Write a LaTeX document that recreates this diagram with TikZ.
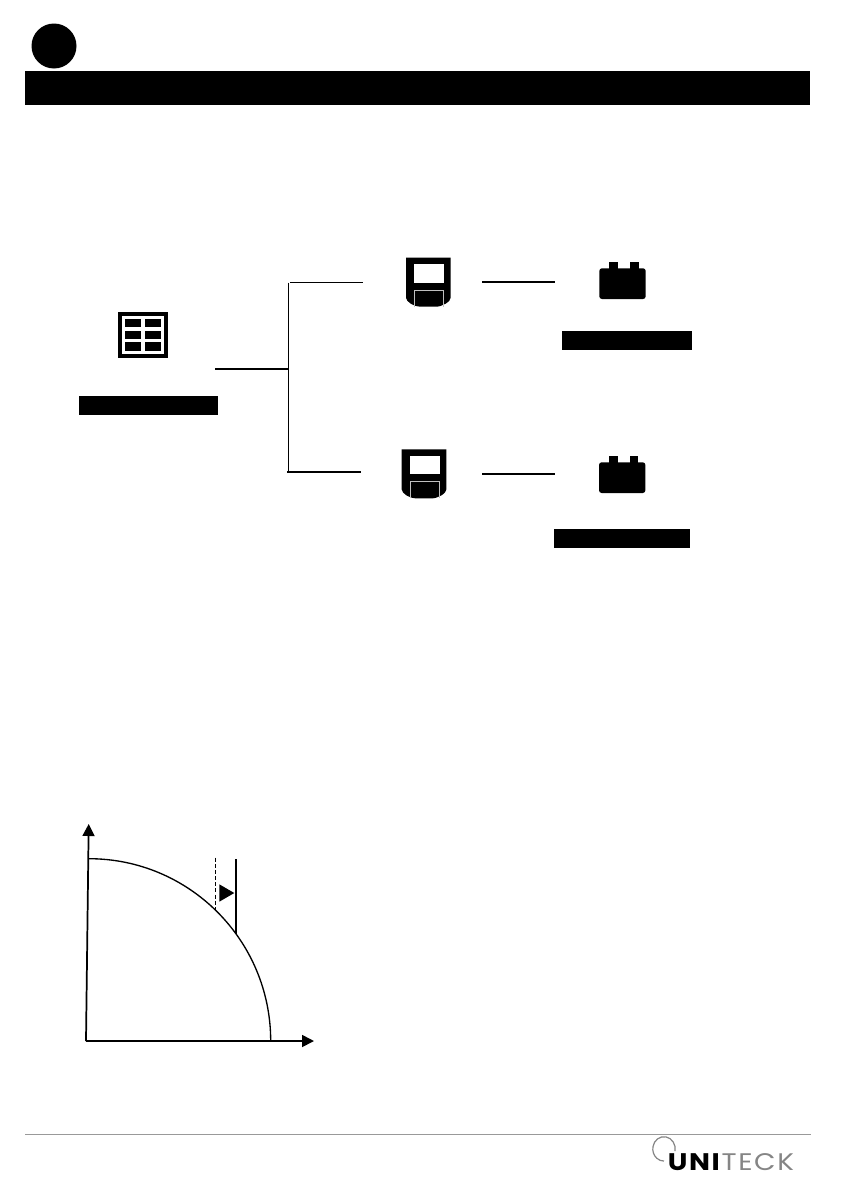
\documentclass[tikz,border=0pt]{standalone}
\usepackage{fontspec}
\setmainfont{Poppins}
\usetikzlibrary{arrows.meta}
\definecolor{logogray}{gray}{0.52}
\tikzset{
  x=0.75pt,y=-0.75pt,
  blackbar/.style={fill=black,draw=none,inner sep=0pt,outer sep=0pt,anchor=north west},
  branch/.style={draw=black,line width=1.3pt},
  thinbranch/.style={draw=black,line width=0.8pt},
  axis/.style={draw=black,line width=1.3pt,-{Triangle[length=9pt,width=9pt]}},
  handheld/.pic={
    \fill[black] (0,0) -- (44.7,0) -- (44.7,40) .. controls (44.7,44) and (36,49) .. (30,49)
      -- (14,49) .. controls (8,49) and (0,44) .. (0,40) -- cycle;
    \fill[white] (8.3,6.3) rectangle (38,25);
    \draw[draw=black!25,line width=0.6pt] (8.3,49) -- (8.3,32.3) -- (37.7,32.3) -- (37.7,49);
  },
  batteryicon/.pic={
    \fill[black,rounded corners=2pt] (0,6.3) rectangle (46.4,37);
    \fill[black] (10,0) rectangle (18.7,7);
    \fill[black] (30.7,0) rectangle (39.4,7);
  }
}
\begin{document}
\begin{tikzpicture}
\useasboundingbox (0,0) rectangle (840,1192);
\fill[white] (0,0) rectangle (840,1192);

% header
\node[circle,fill=black,minimum size=33.75pt,inner sep=0pt] (badge) at (54,46) {};
\node[blackbar,minimum width=588.75pt,minimum height=25.5pt] (headbar) at (25,71) {};

% grid icon
\draw[black,line width=3pt] (119.7,314) rectangle (165.7,355.7);
\foreach \yy/\hh in {319/8,330.7/8,342.3/8.3}{
  \fill[black] (125,\yy) rectangle ++(16,\hh);
  \fill[black] (145,\yy) rectangle ++(15.7,\hh);
}
\node[blackbar,minimum width=104pt,minimum height=14.25pt] (labelA) at (79,396) {};

% handhelds
\pic at (406,257.7) {handheld};
\pic at (401.7,449.4) {handheld};

% batteries
\pic at (599.3,262) {batteryicon};
\pic at (599,456) {batteryicon};
\node[blackbar,minimum width=97.5pt,minimum height=14.25pt] (labelB) at (562,331) {};
\node[blackbar,minimum width=102pt,minimum height=14.25pt] (labelC) at (554,529) {};

% tree connectors
\coordinate (srcEnd) at (215,368.7);
\coordinate (junction) at (288.5,368.7);
\coordinate (trunkTop) at (288.5,282.5);
\coordinate (trunkBot) at (288.5,472);
\coordinate (topStart) at (290,282.3);
\coordinate (topEnd) at (362.7,282.3);
\coordinate (botStart) at (287,471.7);
\coordinate (botEnd) at (361,471.7);
\coordinate (r1a) at (482,281.8);
\coordinate (r1b) at (555,281.8);
\coordinate (r2a) at (482,473.7);
\coordinate (r2b) at (555,473.7);
\draw[branch] (srcEnd) -- (junction);
\draw[branch,line width=1pt] (trunkTop) -- (trunkBot);
\draw[thinbranch] (topStart) -- (topEnd);
\draw[branch] (botStart) -- (botEnd);
\draw[branch] (r1a) -- (r1b);
\draw[branch] (r2a) -- (r2b);

% chart
\coordinate (origin) at (86,1041);
\coordinate (ytop) at (88.7,824);
\coordinate (xtip) at (314,1041);
\coordinate (curveTop) at (89,858.7);
\coordinate (dashTop) at (215.3,857.7);
\coordinate (dashBot) at (215.3,910);
\coordinate (solidTop) at (235.7,859.3);
\coordinate (solidBot) at (235.7,934);
\draw[axis] (origin) -- (ytop);
\draw[axis] (origin) -- (xtip);
\draw[black,line width=1pt] (curveTop) arc[start angle=-90,end angle=0,x radius=181.7,y radius=182.3];
\draw[black,line width=0.7pt,dash pattern=on 3pt off 1.6pt] (dashTop) -- (dashBot);
\draw[black,line width=1.3pt] (solidTop) -- (solidBot);
\fill[black] (219.3,884.3) -- (234.3,893) -- (219.3,901.7) -- cycle;

% footer
\coordinate (footL) at (25,1134.3);
\coordinate (footR) at (811,1134.3);
\draw[black!40,line width=0.75pt] (footL) -- (footR);
\draw[logogray,line width=0.9pt] (675,1151) arc[start angle=10,end angle=-270,x radius=11.2,y radius=12.2];
\node[anchor=base west,inner sep=0pt,font=\fontsize{18pt}{18pt}\selectfont] (logo) at (667.5,1170)
  {\scalebox{1.16}[1]{\addfontfeatures{LetterSpace=6}\textbf{UNI}\textcolor{logogray}{TECK}}};
\end{tikzpicture}
\end{document}
